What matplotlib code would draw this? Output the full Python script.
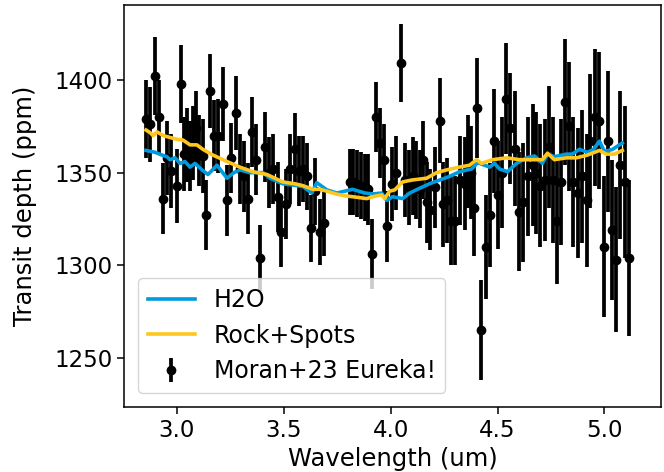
import matplotlib
matplotlib.use("Agg")
from matplotlib import pyplot as plt

# Moran+23 Eureka! spectrum, NRS1 and NRS2 (um, ppm)
wave1 = [2.855, 2.872, 2.895, 2.915, 2.935, 2.953, 2.972, 2.999, 3.017, 3.032,
         3.046, 3.060, 3.075, 3.090, 3.105, 3.120, 3.135, 3.154, 3.172, 3.190,
         3.213, 3.233, 3.255, 3.274, 3.294, 3.313, 3.333, 3.352, 3.372, 3.390,
         3.410, 3.430, 3.450, 3.473, 3.489, 3.508, 3.530, 3.551, 3.572, 3.590,
         3.608, 3.626, 3.647, 3.668, 3.687]
depth1 = [1379, 1376, 1402, 1380, 1336, 1358, 1351, 1343, 1398, 1360,
          1365, 1359, 1366, 1374, 1362, 1359, 1327, 1394, 1370, 1370,
          1387, 1335, 1358, 1382, 1352, 1348, 1336, 1372, 1357, 1304,
          1364, 1350, 1352, 1337, 1318, 1333, 1352, 1363, 1351, 1352,
          1348, 1320, 1340, 1318, 1323]
err1 = [21, 20, 21, 20, 19, 20, 20, 20, 21, 20,
        20, 19, 20, 20, 19, 20, 19, 20, 19, 20,
        20, 19, 19, 20, 19, 19, 19, 19, 19, 18,
        19, 19, 19, 19, 19, 19, 19, 19, 19, 18,
        18, 18, 18, 18, 18]

wave2 = [3.808, 3.825, 3.842, 3.860, 3.878, 3.896, 3.913, 3.930, 3.948, 3.967,
         3.985, 4.005, 4.025, 4.047, 4.066, 4.085, 4.103, 4.118, 4.135, 4.151,
         4.170, 4.186, 4.206, 4.229, 4.247, 4.265, 4.284, 4.303, 4.325, 4.346,
         4.362, 4.376, 4.390, 4.405, 4.424, 4.444, 4.463, 4.483, 4.501, 4.520,
         4.539, 4.557, 4.580, 4.600, 4.619, 4.642, 4.665, 4.682, 4.699, 4.720,
         4.743, 4.759, 4.777, 4.798, 4.818, 4.836, 4.854, 4.875, 4.897, 4.917,
         4.935, 4.958, 4.977, 4.997, 5.016, 5.035, 5.055, 5.074, 5.095, 5.114]
depth2 = [1345, 1345, 1344, 1343, 1342, 1341, 1306, 1380, 1366, 1357,
          1321, 1344, 1350, 1409, 1346, 1342, 1348, 1346, 1341, 1357,
          1334, 1330, 1342, 1378, 1333, 1335, 1324, 1324, 1346, 1344,
          1356, 1350, 1331, 1385, 1265, 1310, 1327, 1367, 1338, 1350,
          1390, 1374, 1363, 1329, 1334, 1348, 1354, 1350, 1343, 1346,
          1364, 1346, 1324, 1345, 1388, 1375, 1345, 1339, 1348, 1335,
          1367, 1380, 1378, 1310, 1367, 1319, 1303, 1354, 1345, 1304]
err2 = [18, 18, 18, 18, 18, 19, 19, 19, 19, 19,
        19, 20, 20, 21, 20, 20, 21, 21, 21, 21,
        22, 22, 22, 23, 23, 23, 24, 24, 24, 25,
        25, 25, 26, 27, 27, 28, 28, 28, 29, 30,
        30, 30, 31, 32, 32, 32, 33, 33, 33, 33,
        33, 34, 34, 34, 34, 35, 35, 35, 36, 36,
        36, 37, 37, 38, 38, 38, 39, 40, 41, 42]

# models
h2o_wave = [2.855, 2.897, 2.930, 2.953, 2.967, 2.991, 3.014, 3.037, 3.061, 3.084,
            3.117, 3.145, 3.187, 3.234, 3.266, 3.294, 3.341, 3.402, 3.435, 3.495,
            3.561, 3.589, 3.631, 3.654, 3.701, 3.748, 3.785, 3.822, 3.879, 3.916,
            3.958, 3.981, 4.009, 4.056, 4.089, 4.136, 4.182, 4.229, 4.276, 4.322,
            4.379, 4.407, 4.439, 4.463, 4.486, 4.509, 4.547, 4.589, 4.636, 4.673,
            4.710, 4.734, 4.766, 4.822, 4.850, 4.883, 4.921, 4.949, 4.977, 5.000,
            5.037, 5.084]
h2o_depth = [1362, 1361, 1359.5, 1358.6, 1357, 1358, 1355, 1356, 1353, 1355,
             1351.5, 1349, 1354, 1347, 1350, 1351.5, 1350, 1350, 1347, 1344,
             1343, 1342.5, 1339, 1344.6, 1340.7, 1339, 1340, 1341, 1339, 1338.5,
             1339, 1335, 1337, 1336, 1339, 1341.6, 1344, 1346, 1348, 1350.5,
             1352, 1355.4, 1354, 1353, 1355, 1352, 1350.5, 1355, 1358, 1359,
             1355, 1360, 1358.6, 1360, 1360, 1362.6, 1361, 1362.6, 1367, 1361.5,
             1362.5, 1366]

rock_wave = [2.855, 2.874, 2.888, 2.907, 2.935, 2.967, 3.000, 3.028, 3.061, 3.093,
             3.121, 3.168, 3.234, 3.294, 3.355, 3.421, 3.458, 3.495, 3.551, 3.589,
             3.636, 3.668, 3.701, 3.748, 3.785, 3.822, 3.888, 3.916, 3.958, 3.972,
             3.995, 4.019, 4.056, 4.098, 4.168, 4.215, 4.262, 4.322, 4.369, 4.402,
             4.425, 4.477, 4.542, 4.603, 4.664, 4.710, 4.734, 4.766, 4.822, 4.869,
             4.921, 4.977, 5.009, 5.047, 5.084]
rock_depth = [1373, 1371.6, 1370, 1372, 1370, 1369, 1368, 1367.6, 1365, 1365,
              1362.6, 1359.5, 1356, 1353, 1350.5, 1349, 1347, 1345, 1344, 1343,
              1341, 1341, 1340, 1338.4, 1337.5, 1337, 1336, 1337, 1338, 1336,
              1340, 1340.7, 1345, 1346, 1347, 1350, 1351.5, 1353, 1354, 1357,
              1355, 1357, 1358, 1357, 1357, 1357, 1360.5, 1357, 1358, 1358,
              1359.5, 1362, 1360, 1360, 1362]

fig = plt.figure(figsize=(6.64, 4.72), dpi=100)
ax = fig.add_axes([124/664, 1 - 407/472, 537/664, 402/472])

ax.errorbar(wave1 + wave2, depth1 + depth2, yerr=err1 + err2, fmt='o', color='k',
            ms=6, elinewidth=2.7, label='Moran+23 Eureka!', zorder=2)
ax.plot(h2o_wave, h2o_depth, color='#009ADE', lw=2.6, label='H2O', zorder=3)
ax.plot(rock_wave, rock_depth, color='#FFC61E', lw=2.6, label='Rock+Spots', zorder=3)

ax.set_xlim(2.752, 5.265)
ax.set_ylim(1223.5, 1440.5)
ax.set_xticks([3.0, 3.5, 4.0, 4.5, 5.0])
ax.set_yticks([1250, 1300, 1350, 1400])
ax.tick_params(labelsize=16.5, width=1.1, length=5)
for s in ax.spines.values():
    s.set_linewidth(1.1)
ax.set_xlabel('Wavelength (um)', fontsize=17.5, labelpad=4)
ax.set_ylabel('Transit depth (ppm)', fontsize=17.5, labelpad=12)
ax.legend(loc='lower left', fontsize=17, borderaxespad=0.6)

fig.savefig('out.png', dpi=100)
